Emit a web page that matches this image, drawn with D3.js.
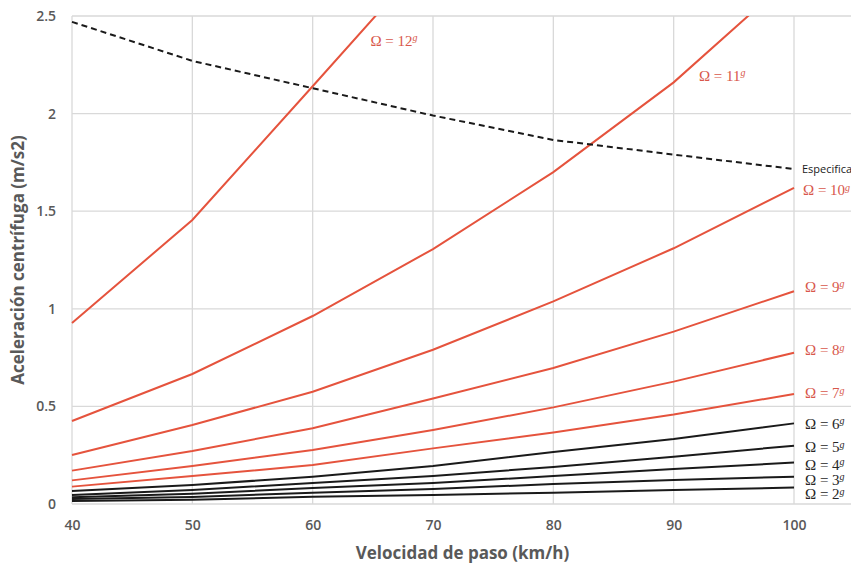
<!DOCTYPE html>
<html>
<head>
<meta charset="utf-8">
<script src="https://cdn.jsdelivr.net/npm/d3@7"></script>
<style>
  html, body { margin: 0; padding: 0; background: #fff; }
  svg { display: block; }
</style>
</head>
<body>
<svg id="chart" width="851" height="568"></svg>
<script>
// Speeds (km/h) at which the acceleration was evaluated
const speeds = [40, 50, 60, 70, 80, 90, 100];

// Centrifugal acceleration (m/s2) for each cant deficiency Ω (in grads)
const omega2  = [0.015, 0.022, 0.037, 0.046, 0.058, 0.072, 0.084];
const omega3  = [0.025, 0.036, 0.058, 0.077, 0.102, 0.123, 0.140];
const omega4  = [0.035, 0.052, 0.082, 0.107, 0.143, 0.179, 0.212];
const omega5  = [0.046, 0.072, 0.107, 0.143, 0.190, 0.242, 0.299];
const omega6  = [0.067, 0.097, 0.140, 0.195, 0.267, 0.333, 0.413];
const omega7  = [0.089, 0.143, 0.200, 0.285, 0.366, 0.458, 0.564];
const omega8  = [0.121, 0.195, 0.277, 0.379, 0.495, 0.627, 0.775];
const omega9  = [0.171, 0.272, 0.388, 0.540, 0.697, 0.883, 1.090];
const omega10 = [0.251, 0.405, 0.575, 0.790, 1.038, 1.310, 1.620];
const omega11 = [0.425, 0.666, 0.963, 1.306, 1.700, 2.160, 2.710];
const omega12 = [0.927, 1.455, 2.140, 2.830];

// Specified limit
const especificacion = [2.47, 2.27, 2.13, 1.99, 1.865, 1.79, 1.716];

// Axis ticks
const xTicks = [40, 50, 60, 70, 80, 90, 100];
const yTicks = [0, 0.5, 1, 1.5, 2, 2.5];
const yTickLabels = ["0", "0.5", "1", "1.5", "2", "2.5"];

const series = [
  { omega: 2,  values: omega2,  kind: "low"  },
  { omega: 3,  values: omega3,  kind: "low"  },
  { omega: 4,  values: omega4,  kind: "low"  },
  { omega: 5,  values: omega5,  kind: "low"  },
  { omega: 6,  values: omega6,  kind: "low"  },
  { omega: 7,  values: omega7,  kind: "high" },
  { omega: 8,  values: omega8,  kind: "high" },
  { omega: 9,  values: omega9,  kind: "high" },
  { omega: 10, values: omega10, kind: "high" },
  { omega: 11, values: omega11, kind: "high" },
  { omega: 12, values: omega12, kind: "high" }
];

const RED = "#e5533d";
const RED_TEXT = "#d8574b";
const GRID = "#d9d9d9";
const TEXT = "#595959";

const svg = d3.select("#chart");
const W = 851;
const plotLeft = 72, plotTop = 16, plotBottom = 504;

const x = d3.scaleLinear().domain([40, 100]).range([plotLeft, 794]);
const y = d3.scaleLinear().domain([0, 2.5]).range([plotBottom, plotTop]);

// Grid
const grid = svg.append("g");
grid.selectAll("line.h").data(yTicks).join("line")
  .attr("class", "h")
  .attr("x1", plotLeft).attr("x2", W)
  .attr("y1", d => y(d)).attr("y2", d => y(d))
  .attr("stroke", GRID).attr("stroke-width", 1.3);
grid.selectAll("line.v").data(xTicks).join("line")
  .attr("class", "v")
  .attr("x1", d => x(d)).attr("x2", d => x(d))
  .attr("y1", plotTop).attr("y2", plotBottom)
  .attr("stroke", GRID).attr("stroke-width", 1.3);

// Axes (labels only, lines come from the grid)
const xAxis = svg.append("g")
  .attr("transform", `translate(0,${plotBottom})`)
  .call(d3.axisBottom(x).tickValues(xTicks).tickSize(0).tickPadding(16).tickFormat(d3.format("d")));
const yAxis = svg.append("g")
  .attr("transform", `translate(${plotLeft},0)`)
  .call(d3.axisLeft(y).tickValues(yTicks).tickSize(0).tickPadding(16)
    .tickFormat((d, i) => yTickLabels[i]));
[xAxis, yAxis].forEach(a => {
  a.select(".domain").remove();
  a.selectAll("text")
    .attr("fill", TEXT)
    .style("font-family", "'Open Sans', 'DejaVu Sans', sans-serif")
    .style("font-size", "14px")
    .style("font-weight", "600");
});

// Clip region for the curves
svg.append("clipPath").attr("id", "plot-clip")
  .append("rect").attr("x", plotLeft - 2).attr("y", plotTop)
  .attr("width", W - plotLeft + 2).attr("height", plotBottom - plotTop + 2);

const line = d3.line().x((d, i) => x(speeds[i])).y(d => y(d));
const curves = svg.append("g").attr("clip-path", "url(#plot-clip)");

curves.selectAll("path.omega").data(series).join("path")
  .attr("class", "omega")
  .attr("d", d => line(d.values))
  .attr("fill", "none")
  .attr("stroke", d => d.kind === "high" ? RED : "#1a1a1a")
  .attr("stroke-width", 2);

curves.append("path")
  .attr("d", line(especificacion))
  .attr("fill", "none")
  .attr("stroke", "#1a1a1a")
  .attr("stroke-width", 2)
  .attr("stroke-dasharray", "6,4");

// Curve labels, placed next to each curve's end
const labelPos = {
  2:  { vx: 100, vy: omega2[6],  dx: 11, dy: 7 },
  3:  { vx: 100, vy: omega3[6],  dx: 11, dy: 3.5 },
  4:  { vx: 100, vy: omega4[6],  dx: 11, dy: 2.5 },
  5:  { vx: 100, vy: omega5[6],  dx: 11, dy: 2 },
  6:  { vx: 100, vy: omega6[6],  dx: 11, dy: 1 },
  7:  { vx: 100, vy: omega7[6],  dx: 11, dy: 0 },
  8:  { vx: 100, vy: omega8[6],  dx: 11, dy: -2 },
  9:  { vx: 100, vy: omega9[6],  dx: 11, dy: -4 },
  10: { vx: 100, vy: omega10[6], dx: 9, dy: 3 },
  11: { vx: 92.1, vy: 2.17, dx: 0, dy: -4 },
  12: { vx: 64.8, vy: 2.36, dx: 0, dy: -2 }
};

const labels = svg.append("g")
  .style("font-family", "'Liberation Serif', 'DejaVu Serif', serif")
  .style("font-size", "15px");
series.forEach(s => {
  const p = labelPos[s.omega];
  const t = labels.append("text")
    .attr("x", x(p.vx) + p.dx)
    .attr("y", y(p.vy) + p.dy + 4.5)
    .attr("fill", s.kind === "high" ? RED_TEXT : "#262626");
  t.append("tspan").text(`Ω = ${s.omega}`);
  t.append("tspan")
    .attr("font-style", "italic")
    .attr("font-size", "10px")
    .attr("dy", -4.5)
    .text("g");
});

svg.append("text")
  .attr("x", x(100) + 8)
  .attr("y", y(especificacion[6]) + 4)
  .attr("fill", "#1a1a1a")
  .style("font-family", "'Open Sans', 'DejaVu Sans', sans-serif")
  .style("font-size", "11px")
  .text("Especificación");

// Axis titles
svg.append("text")
  .attr("x", (plotLeft + W) / 2 + 1)
  .attr("y", 559)
  .attr("text-anchor", "middle")
  .attr("fill", TEXT)
  .style("font-family", "'Open Sans', 'DejaVu Sans', sans-serif")
  .style("font-size", "17px")
  .style("font-weight", "700")
  .text("Velocidad de paso (km/h)");

svg.append("text")
  .attr("transform", `translate(24,${(plotTop + plotBottom) / 2}) rotate(-90)`)
  .attr("text-anchor", "middle")
  .attr("fill", TEXT)
  .style("font-family", "'Open Sans', 'DejaVu Sans', sans-serif")
  .style("font-size", "17px")
  .style("font-weight", "700")
  .text("Aceleración centrífuga (m/s2)");
</script>
</body>
</html>
